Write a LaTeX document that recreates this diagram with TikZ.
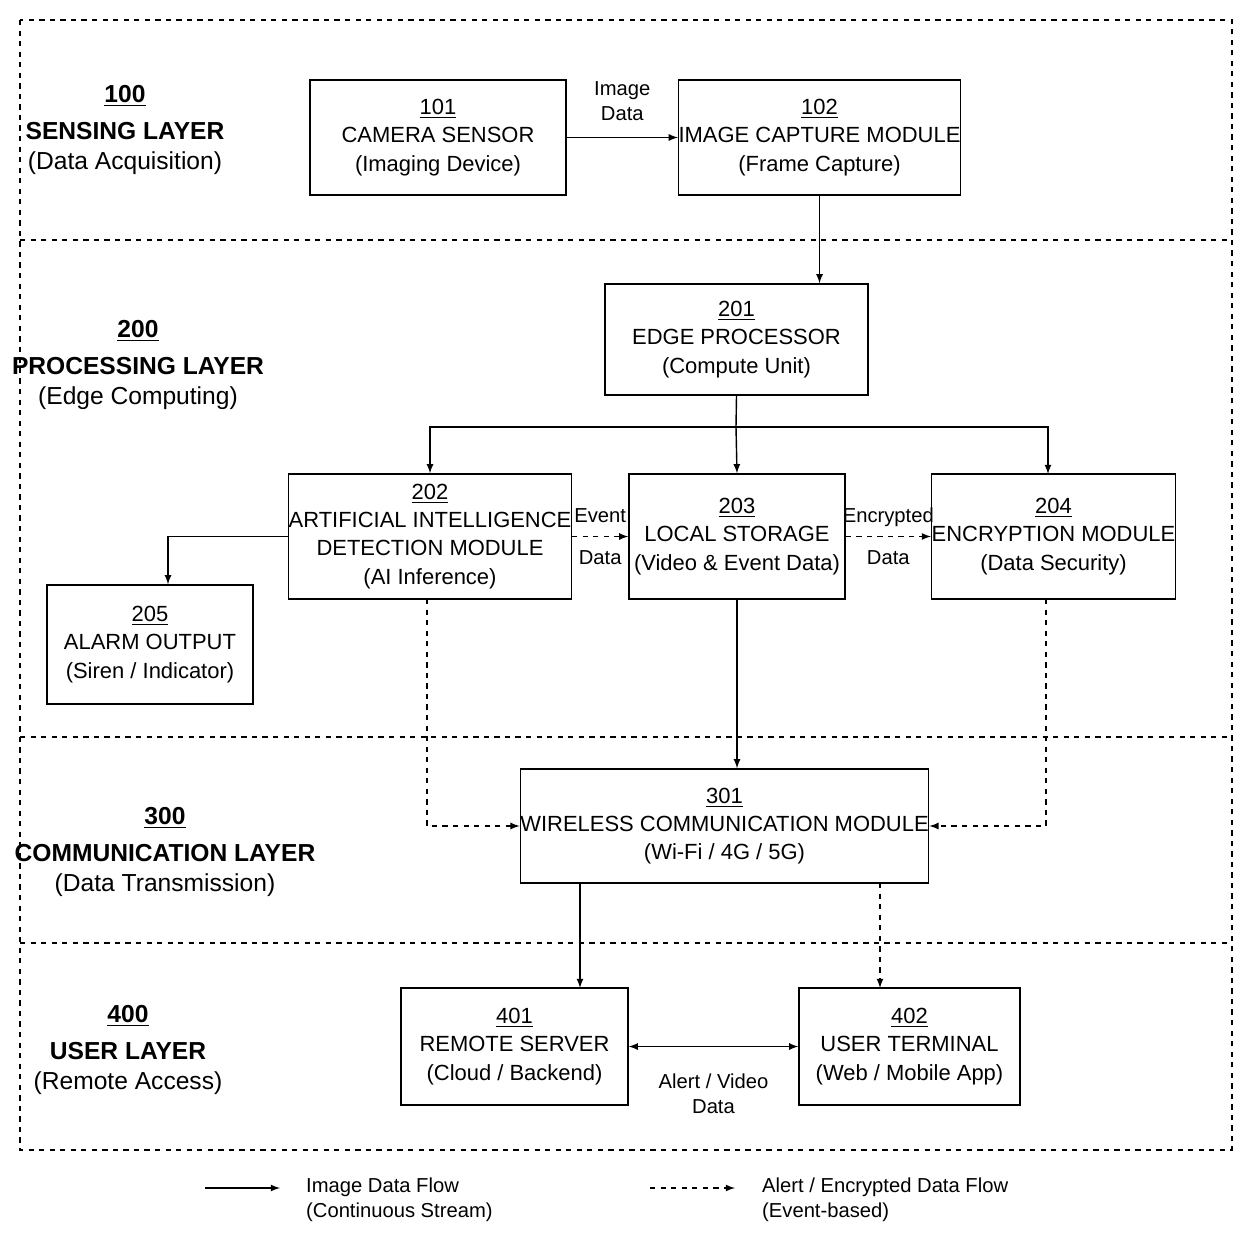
\documentclass[tikz,border=0pt]{standalone}
\usepackage{fontspec}
\setmainfont{Liberation Sans}
\usetikzlibrary{calc}
\begin{document}
\tikzset{
  blk/.style = {draw, line width = .8pt, align = center,
    font = \fontsize{12.5}{16}\selectfont, inner sep = 0pt},
  lyr/.style = {align = center, font = \fontsize{14}{17}\selectfont},
  flow/.style = {line width = .8pt, -latex},
  eflow/.style = {line width = .8pt, -latex, dashed},
  lbl/.style = {align = center, font = \fontsize{11.5}{14}\selectfont}
}
\begin{tikzpicture}[x = .02cm, y = -.02cm]
  \useasboundingbox (0, 0) rectangle (1254, 1254);
  \draw[dashed, line width = .6pt] (20, 20) rectangle (1232, 1150);
  \draw[dashed, line width = .6pt] (20, 240) -- (1232, 240);
  \draw[dashed, line width = .6pt] (20, 737) -- (1232, 737);
  \draw[dashed, line width = .6pt] (20, 943) -- (1232, 943);

  % layer labels
  \node[lyr] (l100) at (125, 130) {\textbf{\underline{100}}\\[4pt]
    \textbf{SENSING LAYER}\\(Data Acquisition)};
  \node[lyr] (l200) at (138, 365) {\textbf{\underline{200}}\\[4pt]
    \textbf{PROCESSING LAYER}\\(Edge Computing)};
  \node[lyr] (l300) at (165, 852) {\textbf{\underline{300}}\\[4pt]
    \textbf{COMMUNICATION LAYER}\\(Data Transmission)};
  \node[lyr] (l400) at (128, 1050) {\textbf{\underline{400}}\\[4pt]
    \textbf{USER LAYER}\\(Remote Access)};

  % blocks
  \node[blk, minimum width = 5.12cm, minimum height = 2.3cm] (n101)
  at (438, 137.5) {\underline{101}\\CAMERA SENSOR\\(Imaging Device)};
  \node[blk, minimum width = 5.5cm, minimum height = 2.3cm] (n102)
  at (819.5, 137.5) {\underline{102}\\IMAGE CAPTURE MODULE\\(Frame Capture)};
  \node[blk, minimum width = 5.26cm, minimum height = 2.22cm] (n201)
  at (736.5, 339.5) {\underline{201}\\EDGE PROCESSOR\\(Compute Unit)};
  \node[blk, minimum width = 4.8cm, minimum height = 2.5cm] (n202)
  at (430, 536.5) {\underline{202}\\ARTIFICIAL INTELLIGENCE\\DETECTION MODULE\\(AI Inference)};
  \node[blk, minimum width = 4.32cm, minimum height = 2.5cm] (n203)
  at (737, 536.5) {\underline{203}\\LOCAL STORAGE\\(Video \& Event Data)};
  \node[blk, minimum width = 4.66cm, minimum height = 2.5cm] (n204)
  at (1053.5, 536.5) {\underline{204}\\ENCRYPTION MODULE\\(Data Security)};
  \node[blk, minimum width = 4.12cm, minimum height = 2.38cm] (n205)
  at (150, 644.5) {\underline{205}\\ALARM OUTPUT\\(Siren / Indicator)};
  \node[blk, minimum width = 8.06cm, minimum height = 2.28cm] (n301)
  at (724.5, 826) {\underline{301}\\WIRELESS COMMUNICATION MODULE\\(Wi-Fi / 4G / 5G)};
  \node[blk, minimum width = 4.54cm, minimum height = 2.34cm] (n401)
  at (514.5, 1046.5) {\underline{401}\\REMOTE SERVER\\(Cloud / Backend)};
  \node[blk, minimum width = 4.42cm, minimum height = 2.34cm] (n402)
  at (909.5, 1046.5) {\underline{402}\\USER TERMINAL\\(Web / Mobile App)};

  % connectors
  \draw[flow] (n101) -- (n102) node[lbl, pos = .5, above = 6pt] {Image\\Data};
  \draw[flow] (n102.south) -- (n102.south |- n201.north);
  \draw[line width = .8pt] (n201.south) -- (736, 427) coordinate (br);
  \draw[flow] (br) -- (n203.north);
  \draw[flow] (br) -| (n202.north);
  \draw[flow] (br) -| (1048, 474);
  \draw[flow] (n202.west) -| (n205.north -| 168, 0);
  \draw[eflow] (n202.east) -- (n203.west)
  node[lbl, pos = .5, align = center] {Event\\[10pt]Data};
  \draw[eflow] (n203.east) -- (n204.west)
  node[lbl, pos = .5, align = center] {Encrypted\\[10pt]Data};
  \draw[flow] (n203.south) -- (n203.south |- n301.north);
  \draw[eflow] (427, 599) |- (n301.west);
  \draw[eflow] (1046, 599) |- (n301.east);
  \draw[flow] (580, 883) -- (580, 988);
  \draw[eflow] (880, 883) -- (880, 988);
  \draw[line width = .8pt, latex-latex] (n401) -- (n402)
  node[lbl, pos = .5, below = 12pt] {Alert / Video\\Data};

  % legend
  \draw[flow] (205, 1188) coordinate (ls1) -- (280, 1188) coordinate (ls2);
  \node[lbl, anchor = west, align = left] (leg1) at (300, 1200)
  {Image Data Flow\\(Continuous Stream)};
  \draw[eflow] (650, 1188) coordinate (ld1) -- (735, 1188) coordinate (ld2);
  \node[lbl, anchor = west, align = left] (leg2) at (756, 1200)
  {Alert / Encrypted Data Flow\\(Event-based)};
\end{tikzpicture}
\end{document}
